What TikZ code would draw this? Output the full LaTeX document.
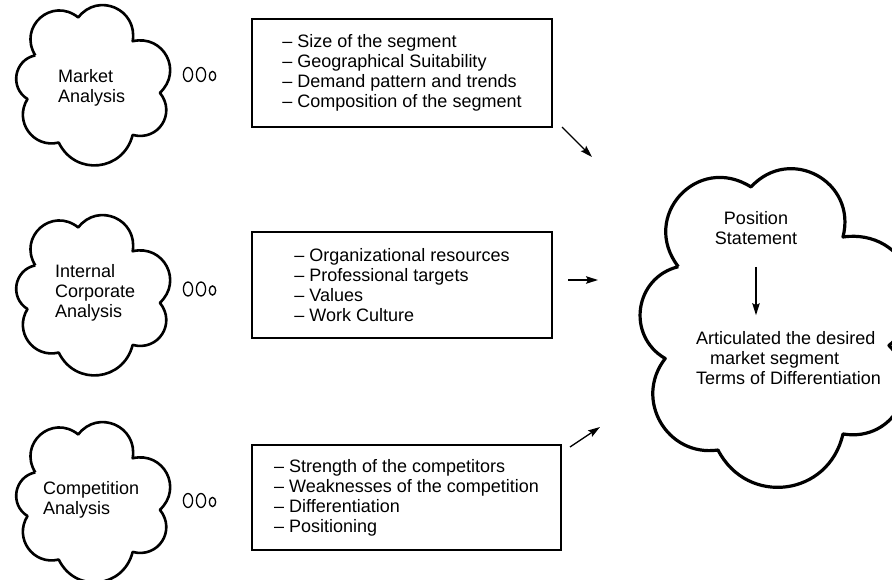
\documentclass[tikz,border=0pt]{standalone}
\usepackage{fontspec}
\setmainfont{Liberation Sans}
\usetikzlibrary{arrows.meta}
% cloud outline: #1 line width, #2 centre, #3 half width, #4 half height
\newcommand\puffoutline[4]{%
  \begin{scope}[shift={(#2)}, x=#3pt, y=-#4pt]
    \draw[line width=#1, line join=round]
      (-0.70,-0.38) to[bend left=80, looseness=1.5] (-0.145,-0.866)
                    to[bend left=76, looseness=1.4] (0.557,-0.561)
                    to[bend left=75, looseness=1.4]  (0.908,0.10)
                    to[bend left=72, looseness=1.35] (0.557,0.64)
                    to[bend left=70, looseness=1.3] (-0.397,0.738)
                    to[bend left=68, looseness=1.25]  (-0.80,0.18)
                    to[bend left=68, looseness=1.25]  (-0.70,-0.38);
  \end{scope}}
\begin{document}
\begin{tikzpicture}[x=1pt,y=-1pt,
  font=\fontsize{18}{20}\selectfont,
  cloudtext/.style={align=left, inner sep=0pt, anchor=west},
  listbox/.style={draw, line width=1.1pt, align=left, inner sep=0pt},
  bubble/.style={line width=1.3pt},
  arr/.style={line width=1.3pt, -{Stealth[length=12pt,width=7.5pt,inset=2pt]}}
]
\useasboundingbox (0,0) rectangle (892,580);

% analysis clouds
\coordinate (mktc) at (89.5,85);
\coordinate (icpc) at (89.5,295);
\coordinate (cmpc) at (89.5,502);
\puffoutline{2.6pt}{mktc}{77.5}{78}
\puffoutline{2.6pt}{icpc}{77.5}{78}
\puffoutline{2.6pt}{cmpc}{77.5}{78}
\node[cloudtext] (mkt) at (58,88) {Market\\Analysis};
\node[cloudtext] (icp) at (55,292.5) {Internal\\Corporate\\Analysis};
\node[cloudtext] (cmp) at (43,500) {Competition\\Analysis};

% thought bubbles trailing each cloud
\foreach \yy in {74.5,289,500.5}{
  \draw[bubble] (188,\yy) ellipse [x radius=4.6, y radius=7];
  \draw[bubble] (201,\yy) ellipse [x radius=4.6, y radius=7];
  \draw[bubble] (212.5,\yy+1.5) ellipse [x radius=3.2, y radius=4.6];
}

% factor lists
\node[listbox, minimum width=300pt, minimum height=108pt] (b1) at (402,73)
  {-- Size of the segment\\-- Geographical Suitability\\-- Demand pattern and trends\\-- Composition of the segment};
\node[listbox, minimum width=300pt, minimum height=106pt] (b2) at (402,285)
  {-- Organizational resources\\-- Professional targets\\-- Values\\-- Work Culture};
\node[listbox, minimum width=309pt, minimum height=105pt] (b3) at (406.5,497.5)
  {-- Strength of the competitors\\-- Weaknesses of the competition\\-- Differentiation\\-- Positioning};

% position statement cloud
\coordinate (rc) at (770,329);
\puffoutline{3.2pt}{rc}{131}{164}
\node[align=center, inner sep=0pt] (ps) at (756,228) {Position\\Statement};
\node[align=left, inner sep=0pt, anchor=west] (art) at (696,358)
  {Articulated the desired\\\hspace*{14pt}market segment\\Terms of Differentiation};
\draw[arr, shorten <=22pt, shorten >=16pt] (ps.south) -- (art.north -| ps.south);

% arrows into the position statement
\coordinate (t1) at (562,127); \coordinate (h1) at (592,157);
\coordinate (t2) at (568,280); \coordinate (h2) at (598,280);
\coordinate (t3) at (570,447); \coordinate (h3) at (600,427);
\draw[arr] (t1) -- (h1);
\draw[arr] (t2) -- (h2);
\draw[arr] (t3) -- (h3);
\end{tikzpicture}
\end{document}
